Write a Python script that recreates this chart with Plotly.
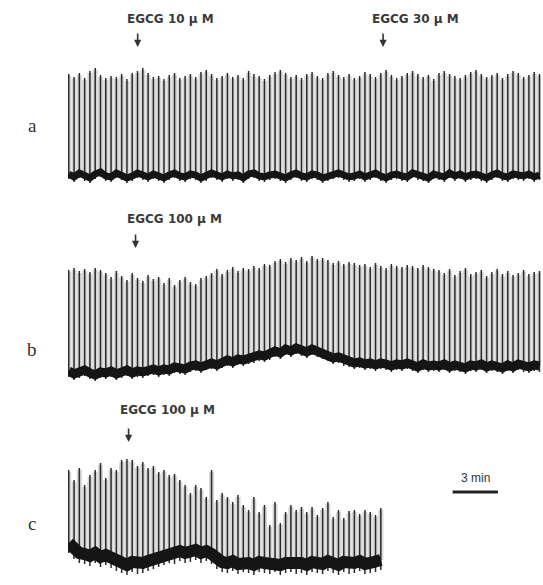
import plotly.graph_objects as go

# ---------------- data ----------------
INTERVAL_MIN = 0.35  # time between contractions (min)

a_peak = [1.02, 0.99, 1.03, 0.98, 1.05, 1.08, 1.01, 0.98, 1.00, 0.99,
          1.02, 0.97, 1.03, 1.05, 1.08, 1.03, 0.99, 1.00, 0.97, 1.01,
          1.03, 0.98, 1.00, 1.02, 0.99, 1.04, 1.06, 1.02, 0.98, 1.00,
          1.03, 0.99, 1.01, 0.98, 1.05, 1.02, 1.00, 0.97, 1.01, 1.04,
          1.06, 1.03, 0.99, 1.01, 0.98, 1.02, 1.04, 1.00, 0.98, 1.03,
          1.05, 1.01, 0.99, 1.02, 0.98, 1.00, 1.04, 1.02, 0.99, 1.03,
          1.06, 1.01, 0.98, 1.00, 1.03, 1.05, 1.02, 0.99, 1.01, 0.97,
          1.03, 1.05, 1.02, 1.00, 0.98, 1.01, 1.04, 1.06, 1.02, 0.99,
          1.01, 1.03, 0.98, 1.02, 1.05, 1.03, 0.99, 1.01, 1.04, 1.02]
a_base = [0.02, -0.01, 0.03, 0.00, -0.02, 0.02, 0.04, 0.00, -0.01, 0.03,
          0.01, -0.02, 0.00, 0.03, 0.01, -0.01, 0.02, 0.00, -0.02, 0.01,
          0.03, 0.00, -0.01, 0.02, 0.01, -0.02, 0.00, 0.03, 0.01, -0.01,
          0.02, 0.00, 0.01, -0.02, 0.02, 0.03, 0.00, -0.01, 0.01, 0.02,
          0.00, -0.02, 0.01, 0.03, 0.00, -0.01, 0.02, 0.01, -0.02, 0.00,
          0.02, 0.03, 0.01, -0.01, 0.00, 0.02, -0.01, 0.01, 0.03, 0.00,
          -0.02, 0.01, 0.02, 0.00, -0.01, 0.03, 0.01, 0.00, -0.02, 0.02,
          0.01, -0.01, 0.03, 0.00, 0.02, -0.01, 0.01, 0.02, 0.00, -0.02,
          0.01, 0.03, 0.00, -0.01, 0.02, 0.01, 0.00, 0.02, -0.01, 0.01]

b_peak = [1.03, 1.05, 1.02, 1.04, 1.01, 1.05, 1.03,
          1.00, 0.96, 1.02, 0.97, 0.93, 1.00, 0.95, 0.92, 0.98, 0.94, 0.96,
          0.90, 0.95, 0.88, 0.93, 0.96, 0.91, 0.89, 0.95, 0.97,
          1.00, 1.04, 0.99, 1.03, 1.06, 1.02, 1.05, 1.04,
          1.07, 1.05, 1.09, 1.08,
          1.12, 1.14, 1.11, 1.15, 1.13, 1.16, 1.12, 1.17, 1.14, 1.15,
          1.13, 1.10, 1.12, 1.09, 1.11, 1.10, 1.08,
          1.09, 1.06, 1.10, 1.07, 1.05, 1.09, 1.07, 1.06, 1.08,
          1.07, 1.05, 1.08, 1.06, 1.04,
          1.03, 1.00, 1.04, 0.98, 1.02, 1.05, 0.99, 1.01, 1.03, 0.97,
          1.01, 1.04, 0.99, 1.02, 0.98, 1.00, 1.03, 0.99, 1.01, 1.02]
b_base = [0.02, -0.01, 0.01, 0.03, 0.00, -0.02, 0.01,
          0.00, 0.02, -0.01, 0.01, 0.03, 0.00, 0.02, 0.01, 0.03, 0.04, 0.02,
          0.04, 0.03, 0.06, 0.05, 0.04, 0.07, 0.08, 0.06, 0.09,
          0.10, 0.08, 0.11, 0.13, 0.11, 0.14, 0.13, 0.15,
          0.16, 0.18, 0.17, 0.19,
          0.22, 0.20, 0.24, 0.22, 0.25, 0.23, 0.21, 0.24, 0.22, 0.20,
          0.18, 0.15, 0.16, 0.13, 0.12, 0.10, 0.11,
          0.09, 0.10, 0.08, 0.10, 0.09, 0.07, 0.09, 0.08, 0.10,
          0.08, 0.06, 0.09, 0.07, 0.08,
          0.07, 0.09, 0.06, 0.08, 0.07, 0.05, 0.08, 0.07, 0.09, 0.06,
          0.08, 0.07, 0.05, 0.08, 0.06, 0.09, 0.07, 0.06, 0.08, 0.07]

c_peak = [0.93, 0.83, 0.95, 0.78, 0.88, 0.93, 1.00, 0.85, 0.95, 0.93,
          1.03, 1.04, 1.03, 0.97, 1.01, 0.95, 0.97, 0.91, 0.93, 0.88,
          0.89, 0.83, 0.78, 0.70, 0.78, 0.75, 0.66, 0.93, 0.63, 0.70,
          0.66, 0.61, 0.68, 0.58, 0.53, 0.66, 0.51, 0.58, 0.38, 0.61,
          0.40, 0.51, 0.58, 0.53, 0.56, 0.51, 0.56, 0.48, 0.55, 0.61,
          0.46, 0.53, 0.45, 0.52, 0.53, 0.49, 0.53, 0.51, 0.48, 0.55]
c_base = [0.20, 0.14, 0.10,
          0.09, 0.07, 0.10, 0.06, 0.08, 0.05,
          0.02, 0.00, -0.02, 0.01, -0.01, 0.00, 0.02, 0.04, 0.06,
          0.08, 0.10, 0.09, 0.12, 0.10, 0.11, 0.13, 0.10, 0.12, 0.09,
          0.04, 0.01, 0.00, 0.02, -0.01, 0.01, 0.00, -0.02, 0.01, 0.00,
          -0.01, 0.01, -0.02, 0.00, 0.01, -0.01, 0.00, -0.02, 0.01, 0.00,
          -0.01, 0.02, 0.00, -0.02, 0.01, -0.01, 0.00, 0.02, -0.01, 0.00,
          0.01, 0.03]

panel_labels = ["a", "b", "c"]
drug_events = [  # (panel, time in min, label)
    (0, 4.56, "EGCG 10 μ M"),
    (0, 20.8, "EGCG 30 μ M"),
    (1, 4.42, "EGCG 100 μ M"),
    (2, 3.96, "EGCG 100 μ M"),
]
SCALE_MIN = 3
scale_start = 25.4

# ---------------- figure ----------------
W, H = 543, 585
fig = go.Figure()

panels = [(a_peak, a_base, "x", "y", 7, 0.05),
          (b_peak, b_base, "x2", "y2", 9, 0.06),
          (c_peak, c_base, "x3", "y3", 12, 0.10)]

for peaks, base, xa, ya, bw, depth in panels:
    t = [i * INTERVAL_MIN for i in range(len(peaks))]
    gx, gy, xs, ys = [], [], [], []
    for ti, p, b in zip(t, peaks, base):
        gx += [ti, ti, None]
        gy += [b, p - 0.02, None]
        xs += [ti, ti, None]
        ys += [b - depth, p, None]
    # light pen smear between strokes
    fig.add_trace(go.Scatter(x=gx, y=gy, mode="lines",
                             line=dict(color="#d6d6d6", width=5),
                             xaxis=xa, yaxis=ya, showlegend=False, hoverinfo="skip"))
    # contraction strokes
    fig.add_trace(go.Scatter(x=xs, y=ys, mode="lines",
                             line=dict(color="#2a2a2a", width=1.5),
                             xaxis=xa, yaxis=ya, showlegend=False, hoverinfo="skip"))
    # baseline band
    fig.add_trace(go.Scatter(x=t, y=base, mode="lines",
                             line=dict(color="#151515", width=bw),
                             xaxis=xa, yaxis=ya, showlegend=False, hoverinfo="skip"))

x0p, x1p = 68 / W, 541 / W
xr = [-0.05, 89 * INTERVAL_MIN + 0.1]


def py(p):
    return 1 - p / H


ax_common = dict(visible=False, showgrid=False, zeroline=False, fixedrange=True)
fig.update_layout(
    width=W, height=H, margin=dict(l=0, r=0, t=0, b=0),
    paper_bgcolor="white", plot_bgcolor="rgba(0,0,0,0)",
    xaxis=dict(domain=[x0p, x1p], range=xr, anchor="y", **ax_common),
    xaxis2=dict(domain=[x0p, x1p], range=xr, anchor="y2", **ax_common),
    xaxis3=dict(domain=[x0p, x1p], range=xr, anchor="y3", **ax_common),
    yaxis=dict(domain=[py(190), py(60)], range=[-0.14, 1.16], anchor="x", **ax_common),
    yaxis2=dict(domain=[py(385), py(245)], range=[-0.12, 1.28], anchor="x2", **ax_common),
    yaxis3=dict(domain=[py(585), py(440)], range=[-0.22, 1.23], anchor="x3", **ax_common),
    showlegend=False,
)

# panel letters
for lab, yp in zip(panel_labels, [125, 349, 523]):
    fig.add_annotation(x=32 / W, y=py(yp), xref="paper", yref="paper", text=lab,
                       xanchor="center", yanchor="middle",
                       showarrow=False, font=dict(family="Liberation Serif", size=19, color="#333"))

# drug application arrows
arrow_tip = [47, 248, 442]
text_y = [19, 219, 410]
text_shift = [-13, -11, -11]
xrefs = ["x", "x2", "x3"]
for panel, tm, lab in drug_events:
    fig.add_annotation(x=tm, y=py(arrow_tip[panel]), xref=xrefs[panel], yref="paper",
                       text="", showarrow=True, ax=0, ay=-15, arrowhead=2,
                       arrowsize=0.9, arrowwidth=1.6, arrowcolor="#333")
    fig.add_annotation(x=tm, y=py(text_y[panel]), xref=xrefs[panel], yref="paper",
                       text="<b>" + lab + "</b>", showarrow=False,
                       xanchor="left", yanchor="middle", xshift=text_shift[panel],
                       font=dict(family="DejaVu Sans", size=12, color="#3a3a3a"))

# scale bar
fig.add_shape(type="line", xref="x3", yref="paper", x0=scale_start, x1=scale_start + SCALE_MIN,
              y0=py(492), y1=py(492), line=dict(color="#222", width=3))
fig.add_annotation(x=scale_start + SCALE_MIN / 2, y=py(478), xref="x3", yref="paper",
                   text=f"{SCALE_MIN} min", showarrow=False, yanchor="middle",
                   font=dict(family="Liberation Sans", size=12, color="#333"))

fig.write_html("out.html", config={"displayModeBar": False},
               post_script="document.body.style.margin='0';")
